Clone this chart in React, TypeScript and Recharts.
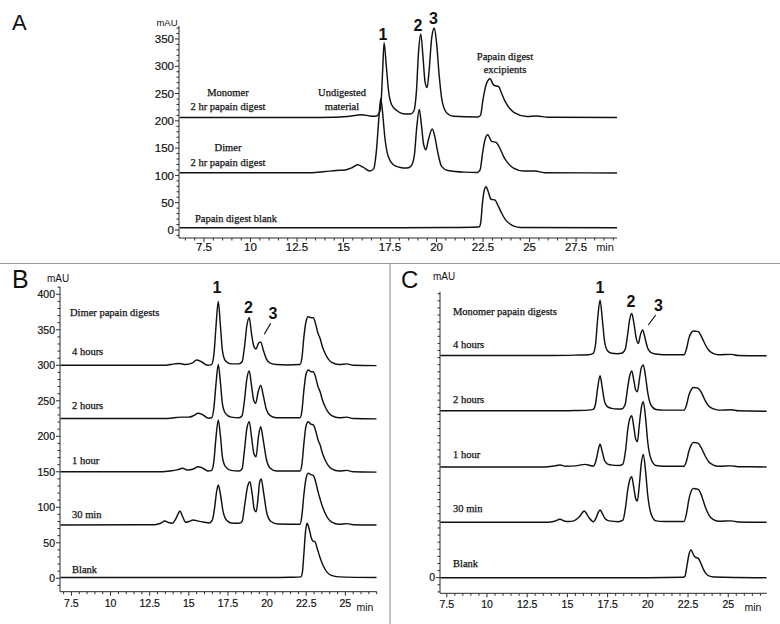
import React from 'react';
import { LineChart, Line, XAxis, YAxis } from 'recharts';

// ---------- Panel A traces [time(min), mAU] ----------
const aMonomer: [number, number][] = [
  [6.2, 206], [13, 206], [14.5, 206.5], [15.2, 208], [15.98, 211], [16.4, 209], [16.75, 208.5], [16.92, 214],
  [17.02, 235], [17.1, 290], [17.18, 343], [17.3, 300], [17.42, 255], [17.58, 230], [17.86, 219], [18.2, 213],
  [18.6, 212.5], [18.78, 218], [18.92, 255], [19.03, 325], [19.15, 359], [19.27, 318], [19.38, 272], [19.49, 261],
  [19.6, 292], [19.74, 352], [19.88, 370], [20.0, 343], [20.15, 280], [20.3, 236], [20.55, 214.5], [20.9, 208.5],
  [22.2, 207], [22.36, 210], [22.5, 240], [22.68, 268], [22.88, 277.3], [23.02, 268], [23.1, 265], [23.34, 262.6],
  [23.5, 250], [23.68, 236], [23.95, 222], [24.2, 214.5], [24.84, 208], [25.38, 209], [26, 206.5], [29.7, 206],
];
const aDimer: [number, number][] = [
  [6.2, 105], [13.2, 105], [14.0, 107], [14.6, 109], [15.1, 110], [15.45, 114], [15.76, 119.5], [16.05, 115],
  [16.42, 108], [16.62, 112], [16.78, 150], [16.9, 205], [17.0, 240.8], [17.1, 215], [17.22, 170], [17.4, 135],
  [17.68, 119.5], [18.0, 115], [18.4, 113.4], [18.6, 116], [18.8, 135], [18.94, 190], [19.07, 220.6], [19.18, 195],
  [19.3, 158], [19.43, 147], [19.56, 165], [19.77, 185.1], [19.9, 172], [20.05, 145], [20.27, 116.5], [20.6, 109],
  [21.5, 106], [22.2, 105.5], [22.34, 110], [22.47, 140], [22.6, 165], [22.75, 174.6], [22.96, 162.4], [23.2, 160.6],
  [23.4, 150], [23.6, 134.9], [23.85, 122], [24.14, 113.4], [24.68, 108], [25.3, 108], [25.8, 105], [29.7, 104.5],
];
const aBlank: [number, number][] = [
  [6.2, 4], [18, 4], [20.5, 4.5], [22.2, 5.5], [22.3, 6], [22.38, 15], [22.47, 50], [22.56, 72], [22.66, 79.4],
  [22.78, 70], [22.93, 56.2], [23.14, 55], [23.3, 45], [23.5, 30.6], [23.7, 19], [23.95, 11], [24.2, 6.5],
  [24.5, 4.5], [29.7, 4],
];

// ---------- Panel B traces ----------
const b4h: [number, number][] = [
  [6.8, 300], [13.5, 300], [14.1, 302], [14.4, 302.5], [14.8, 301], [15.2, 303], [15.5, 307.5], [15.8, 305],
  [16.2, 300], [16.45, 301], [16.6, 315], [16.72, 350], [16.88, 390], [17.02, 355], [17.15, 320], [17.35, 306],
  [17.7, 302], [18.2, 302], [18.4, 305], [18.55, 325], [18.7, 355], [18.86, 367], [19.0, 345], [19.15, 327],
  [19.29, 323], [19.45, 331], [19.59, 333], [19.75, 322], [19.95, 309], [20.2, 303], [20.6, 301], [21.3, 300.5],
  [22.1, 301], [22.22, 310], [22.35, 340], [22.48, 361], [22.63, 368.5], [22.8, 367], [22.95, 367], [23.1, 358],
  [23.25, 345], [23.38, 338], [23.55, 325], [23.7, 317], [23.9, 309], [24.13, 304], [24.6, 301], [25.1, 302],
  [25.5, 300], [27, 299.5],
];
const b2h: [number, number][] = [
  [6.8, 225], [13.5, 225], [14.2, 226.5], [14.6, 227], [15.0, 227], [15.3, 229], [15.6, 232.5], [15.9, 230],
  [16.25, 225.5], [16.45, 226], [16.6, 240], [16.72, 270], [16.88, 301], [17.02, 275], [17.15, 245], [17.35, 232],
  [17.7, 227], [18.2, 226], [18.4, 229], [18.55, 250], [18.7, 280], [18.86, 292], [19.0, 272], [19.15, 250],
  [19.27, 246.5], [19.42, 262], [19.59, 272], [19.75, 258], [19.95, 238], [20.2, 229], [20.6, 226], [22.1, 226],
  [22.22, 235], [22.35, 265], [22.48, 287], [22.63, 293.5], [22.8, 291], [22.95, 291], [23.1, 283], [23.25, 270],
  [23.38, 263], [23.55, 250], [23.7, 242], [23.9, 234], [24.13, 229], [24.6, 226], [25.1, 227], [25.5, 225], [27, 224.5],
];
const b1h: [number, number][] = [
  [6.8, 150], [13.3, 150], [13.8, 151], [14.3, 153], [14.6, 155], [14.9, 152.5], [15.3, 154], [15.6, 157],
  [15.9, 155], [16.25, 151], [16.45, 152], [16.6, 165], [16.72, 195], [16.88, 223], [17.02, 200], [17.15, 170],
  [17.35, 157], [17.7, 152], [18.2, 151], [18.4, 154], [18.55, 180], [18.7, 210], [18.86, 220.6], [19.0, 200],
  [19.15, 176], [19.29, 171], [19.45, 200], [19.59, 213.5], [19.75, 195], [19.95, 168], [20.2, 155], [20.6, 151],
  [22.1, 151], [22.22, 160], [22.35, 190], [22.48, 214], [22.63, 220.6], [22.8, 217], [22.95, 216], [23.1, 208],
  [23.25, 195], [23.38, 188], [23.55, 175], [23.7, 167], [23.9, 159], [24.13, 154], [24.6, 151], [25.1, 152],
  [25.5, 150], [27, 149.5],
];
const b30m: [number, number][] = [
  [6.8, 75], [12.8, 75.5], [13.2, 77.5], [13.47, 80.7], [13.7, 78.5], [13.95, 77.5], [14.15, 83], [14.3, 90],
  [14.43, 94.8], [14.6, 87], [14.8, 79], [15.0, 80], [15.27, 82], [15.6, 80.5], [16.0, 79], [16.3, 78], [16.5, 82],
  [16.65, 100], [16.76, 120], [16.88, 131.4], [17.02, 118], [17.18, 95], [17.4, 82], [17.7, 78], [18.2, 77.5],
  [18.4, 80], [18.58, 105], [18.74, 128], [18.9, 136], [19.05, 118], [19.18, 97], [19.3, 93.8], [19.43, 115],
  [19.52, 135], [19.62, 139.9], [19.78, 120], [19.98, 92], [20.25, 80], [20.7, 76.5], [22.1, 76], [22.22, 88],
  [22.35, 118], [22.48, 140], [22.63, 148], [22.8, 146], [22.95, 145], [23.1, 136], [23.25, 122], [23.38, 112],
  [23.55, 100], [23.7, 92], [23.9, 84], [24.13, 79], [24.6, 76], [25.1, 77], [25.5, 75.5], [27, 75],
];
const bBlank: [number, number][] = [
  [6.8, 1], [20, 1], [21.5, 1.5], [22.15, 2], [22.25, 8], [22.35, 35], [22.45, 65], [22.55, 77.5], [22.68, 70],
  [22.82, 57], [22.95, 52], [23.05, 51.6], [23.2, 42], [23.4, 28], [23.6, 17], [23.85, 8], [24.1, 4], [24.6, 2], [27, 1],
];

// ---------- Panel C traces ----------
const c4h: [number, number][] = [
  [7.1, 313], [14, 313], [15.5, 313.5], [16.3, 314], [16.6, 316], [16.75, 329], [16.88, 364], [17.03, 391],
  [17.17, 364], [17.31, 333], [17.48, 320], [17.75, 316], [18.1, 315.5], [18.38, 316], [18.6, 322], [18.73, 340],
  [18.86, 362], [19.0, 372], [19.14, 358], [19.28, 337], [19.41, 330], [19.54, 342], [19.68, 349], [19.82, 338],
  [19.98, 324], [20.2, 317], [20.5, 315], [21, 314], [22.25, 314], [22.4, 322], [22.55, 337], [22.7, 345],
  [22.83, 347.4], [23.0, 347], [23.14, 346.5], [23.3, 341], [23.45, 334], [23.6, 327], [23.8, 320], [24.05, 316],
  [24.4, 314], [25.2, 314.5], [25.6, 313], [27.4, 312.5],
];
const c2h: [number, number][] = [
  [7.1, 235], [14, 235], [15.5, 235.5], [16.3, 236], [16.6, 237], [16.75, 245], [16.88, 267], [17.03, 284.5],
  [17.17, 267], [17.31, 248], [17.48, 241], [17.75, 238.5], [18.1, 237.5], [18.38, 237.6], [18.6, 245],
  [18.73, 265], [18.86, 283], [19.0, 291], [19.13, 278], [19.25, 264], [19.35, 262], [19.48, 280], [19.6, 296],
  [19.72, 299.5], [19.86, 283], [20.0, 260], [20.2, 243], [20.5, 237], [21, 236], [22.25, 236], [22.4, 243],
  [22.55, 257], [22.7, 265], [22.83, 268], [23.0, 267.5], [23.14, 266.7], [23.3, 262], [23.45, 255], [23.6, 248],
  [23.8, 241.5], [24.05, 238], [24.4, 236], [25.2, 236.5], [25.6, 235], [27.4, 234.5],
];
const c1h: [number, number][] = [
  [7.1, 156], [13.5, 156], [14.2, 157.5], [14.54, 158.7], [14.9, 157], [15.5, 157.5], [16.1, 159.6], [16.4, 158],
  [16.61, 157], [16.78, 165], [16.9, 178], [17.03, 187.8], [17.17, 177], [17.31, 165], [17.5, 160], [17.8, 158.5],
  [18.2, 158], [18.45, 160], [18.62, 180], [18.76, 210], [18.88, 224], [19.0, 228], [19.13, 212], [19.25, 195],
  [19.35, 191.6], [19.47, 215], [19.6, 240], [19.72, 247.9], [19.86, 225], [20.0, 190], [20.2, 167], [20.5, 158],
  [21, 157], [22.25, 157], [22.4, 164], [22.55, 178], [22.7, 187], [22.83, 190.6], [23.0, 190], [23.14, 189.2],
  [23.3, 184], [23.45, 177], [23.6, 170], [23.8, 163], [24.05, 159], [24.4, 157], [25.2, 157.5], [25.6, 156.3],
  [27.4, 156],
];
const c30m: [number, number][] = [
  [7.1, 78], [13.8, 78], [14.2, 79.5], [14.54, 82.2], [14.85, 79.5], [15.06, 79], [15.4, 80], [15.75, 86],
  [16.05, 93.9], [16.3, 86], [16.61, 78.9], [16.8, 85], [16.92, 92], [17.03, 95.3], [17.16, 91], [17.35, 83],
  [17.6, 80], [18.17, 78.9], [18.45, 81], [18.62, 100], [18.76, 125], [18.88, 138], [19.0, 142.3], [19.12, 128],
  [19.25, 111], [19.35, 108], [19.47, 130], [19.6, 162], [19.72, 173.7], [19.86, 150], [20.0, 115], [20.2, 90],
  [20.5, 80], [21, 79], [22.25, 79], [22.4, 90], [22.55, 110], [22.7, 122], [22.83, 125.8], [23.0, 125],
  [23.14, 124.4], [23.3, 118], [23.45, 108], [23.6, 98], [23.8, 88], [24.05, 82], [24.4, 79.5], [25.2, 80],
  [25.6, 78.5], [27.4, 78],
];
const cBlank: [number, number][] = [
  [7.1, 0], [20, 0], [22.2, 0.5], [22.31, 2], [22.42, 15], [22.55, 32], [22.69, 39], [22.82, 33], [22.95, 29],
  [23.14, 27.2], [23.3, 20], [23.45, 12], [23.6, 6], [23.8, 2.5], [24.1, 1], [27.4, 0],
];

// ---------- Axis tick labels ----------
const xMajorA = [7.5, 10, 12.5, 15, 17.5, 20, 22.5, 25, 27.5];
const xMajorBC = [7.5, 10, 12.5, 15, 17.5, 20, 22.5, 25];
const yMajorA = [0, 50, 100, 150, 200, 250, 300, 350];
const yMajorB = [0, 50, 100, 150, 200, 250, 300, 350, 400];
const yMajorC = [0];

const range = (a: number, b: number, s: number) => {
  const out: number[] = [];
  for (let v = a; v <= b + 1e-9; v += s) out.push(Math.round(v * 100) / 100);
  return out;
};

const toRows = (arr: [number, number][]) => arr.map(([t, v]) => ({ t, v }));

const AX = '#2a2a2a';
const INK = '#111111';
const SANS = '"Liberation Sans", Arial, Helvetica, sans-serif';
const SERIF = '"Liberation Serif", "Times New Roman", serif';

const makeXTick = (majors: number[], fs: number, dy: number) => (props: any) => {
  const { x, y, payload } = props;
  const v = payload.value;
  const isMajor = majors.some((m) => Math.abs(m - v) < 1e-6);
  return (
    <g>
      <line x1={x} y1={y} x2={x} y2={y + (isMajor ? 4 : 2.5)} stroke={AX} strokeWidth={1} />
      {isMajor && (
        <text x={x} y={y + dy} textAnchor="middle" fontFamily={SANS} fontSize={fs} fill={INK} stroke={INK} strokeWidth={0.2}>
          {String(v)}
        </text>
      )}
    </g>
  );
};

const makeYTick = (majors: number[], fs: number, gap: number) => (props: any) => {
  const { x, y, payload } = props;
  const v = payload.value;
  const isMajor = majors.some((m) => Math.abs(m - v) < 1e-6);
  return (
    <g>
      <line x1={x} y1={y} x2={x - (isMajor ? 4 : 2.5)} y2={y} stroke={AX} strokeWidth={1} />
      {isMajor && (
        <text x={x - gap} y={y} dy="0.36em" textAnchor="end" fontFamily={SANS} fontSize={fs} fill={INK} stroke={INK} strokeWidth={0.2}>
          {String(v)}
        </text>
      )}
    </g>
  );
};

type PanelProps = {
  left: number;
  top: number;
  width: number;
  height: number;
  margin: { top: number; right: number; bottom: number; left: number };
  xDomain: [number, number];
  yDomain: [number, number];
  xTicks: number[];
  yTicks: number[];
  xMajors: number[];
  yMajors: number[];
  fs: number;
  xdy: number;
  traces: [number, number][][];
};

const Panel = (p: PanelProps) => (
  <div style={{ position: 'absolute', left: p.left, top: p.top }}>
    <LineChart width={p.width} height={p.height} margin={p.margin}>
      <XAxis
        dataKey="t"
        type="number"
        domain={p.xDomain}
        allowDataOverflow
        ticks={p.xTicks}
        interval={0}
        height={20}
        tickSize={0}
        tickMargin={0}
        tickLine={false}
        axisLine={{ stroke: AX, strokeWidth: 1 }}
        tick={makeXTick(p.xMajors, p.fs, p.xdy)}
      />
      <YAxis
        type="number"
        domain={p.yDomain}
        allowDataOverflow
        ticks={p.yTicks}
        interval={0}
        width={30}
        tickSize={0}
        tickMargin={0}
        tickLine={false}
        axisLine={{ stroke: AX, strokeWidth: 1 }}
        tick={makeYTick(p.yMajors, p.fs, 5)}
      />
      {p.traces.map((tr, i) => (
        <Line
          key={i}
          data={toRows(tr)}
          dataKey="v"
          type="monotone"
          stroke={INK}
          strokeWidth={1.45}
          dot={false}
          activeDot={false}
          isAnimationActive={false}
        />
      ))}
    </LineChart>
  </div>
);

const serifText = (x: number, y: number, s: string, anchor: 'start' | 'middle' = 'middle', fs = 10.5) => (
  <text x={x} y={y} textAnchor={anchor} fontFamily={SERIF} fontSize={fs} fill={INK} stroke={INK} strokeWidth={0.25}>
    {s}
  </text>
);
const peakText = (x: number, y: number, s: string) => (
  <text x={x} y={y} textAnchor="middle" fontFamily={SANS} fontWeight="bold" fontSize={16} fill={INK}>
    {s}
  </text>
);

export default function App() {
  return (
    <div style={{ position: 'absolute', left: 0, top: 0, width: 780, height: 624, background: '#fff', overflow: 'hidden' }}>
      <Panel
        left={0}
        top={0}
        width={780}
        height={262}
        margin={{ top: 26, right: 163, bottom: 4, left: 149 }}
        xDomain={[6.156, 29.7]}
        yDomain={[-14.7, 373.8]}
        xTicks={range(6.5, 29.5, 0.5)}
        yTicks={range(-10, 370, 10)}
        xMajors={xMajorA}
        yMajors={yMajorA}
        fs={11.5}
        xdy={13}
        traces={[aMonomer, aDimer, aBlank]}
      />
      <Panel
        left={0}
        top={262}
        width={390}
        height={362}
        margin={{ top: 24.7, right: 13.3, bottom: 12.3, left: 30 }}
        xDomain={[6.77, 27.0]}
        yDomain={[-18.9, 410.7]}
        xTicks={range(7, 27, 0.5)}
        yTicks={range(-10, 410, 10)}
        xMajors={xMajorBC}
        yMajors={yMajorB}
        fs={10.5}
        xdy={15}
        traces={[b4h, b2h, b1h, b30m, bBlank]}
      />
      <Panel
        left={390}
        top={262}
        width={390}
        height={362}
        margin={{ top: 29.7, right: 13.3, bottom: 10.7, left: 20 }}
        xDomain={[7.08, 27.39]}
        yDomain={[-22, 402.8]}
        xTicks={range(7.5, 27, 0.5)}
        yTicks={range(-20, 400, 10)}
        xMajors={xMajorBC}
        yMajors={yMajorC}
        fs={10.5}
        xdy={15}
        traces={[c4h, c2h, c1h, c30m, cBlank]}
      />
      <svg width={780} height={624} style={{ position: 'absolute', left: 0, top: 0, pointerEvents: 'none' }}>
        {/* separators */}
        <line x1={0} y1={263.5} x2={780} y2={263.5} stroke="#9a9a9a" strokeWidth={1.2} />
        <line x1={390} y1={263.5} x2={390} y2={624} stroke="#9a9a9a" strokeWidth={1.2} />
        {/* panel letters */}
        <text x={12} y={30} fontFamily={SANS} fontSize={22} fill={INK}>A</text>
        <text x={12} y={288} fontFamily={SANS} fontSize={25} fill={INK}>B</text>
        <text x={401} y={288} fontFamily={SANS} fontSize={24} fill={INK}>C</text>
        {/* unit labels */}
        <text x={167} y={26} textAnchor="middle" fontFamily={SANS} fontSize={9.5} fill={INK}>mAU</text>
        <text x={605} y={251} textAnchor="middle" fontFamily={SANS} fontSize={11} fill={INK}>min</text>
        <text x={58} y={281.5} textAnchor="middle" fontFamily={SANS} fontSize={10} fill={INK}>mAU</text>
        <text x={365} y={611} textAnchor="middle" fontFamily={SANS} fontSize={10.5} fill={INK}>min</text>
        <text x={444} y={280} textAnchor="middle" fontFamily={SANS} fontSize={10} fill={INK}>mAU</text>
        <text x={753} y={611} textAnchor="middle" fontFamily={SANS} fontSize={10.5} fill={INK}>min</text>
        {/* Panel A annotations */}
        {serifText(228, 96, 'Monomer')}
        {serifText(228, 110, '2 hr papain digest')}
        {serifText(342, 96, 'Undigested')}
        {serifText(342, 110, 'material')}
        {serifText(228, 151, 'Dimer')}
        {serifText(228, 166, '2 hr papain digest')}
        {serifText(236, 222, 'Papain digest blank')}
        {serifText(505, 60, 'Papain digest')}
        {serifText(505, 73, 'excipients')}
        {peakText(383, 40, '1')}
        {peakText(418, 31, '2')}
        {peakText(433.5, 24, '3')}
        {/* Panel B annotations */}
        {serifText(70, 316, 'Dimer  papain digests', 'start')}
        {serifText(72, 355, '4 hours', 'start')}
        {serifText(72, 409, '2 hours', 'start')}
        {serifText(72, 464, '1 hour', 'start')}
        {serifText(72, 518, '30 min', 'start')}
        {serifText(72, 573, 'Blank', 'start')}
        {peakText(217, 293, '1')}
        {peakText(248.5, 313, '2')}
        {peakText(273, 319, '3')}
        <line x1={264.3} y1={334.3} x2={270.7} y2={323.3} stroke={INK} strokeWidth={1.2} />
        {/* Panel C annotations */}
        {serifText(453, 315, 'Monomer papain digests', 'start')}
        {serifText(453, 348, '4 hours', 'start')}
        {serifText(453, 402.5, '2 hours', 'start')}
        {serifText(453, 457.5, '1 hour', 'start')}
        {serifText(453, 512, '30 min', 'start')}
        {serifText(453, 566.5, 'Blank', 'start')}
        {peakText(600, 293, '1')}
        {peakText(631, 306.5, '2')}
        {peakText(658.5, 311, '3')}
        <line x1={648.3} y1={325} x2={655.7} y2={315} stroke={INK} strokeWidth={1.2} />
      </svg>
    </div>
  );
}
